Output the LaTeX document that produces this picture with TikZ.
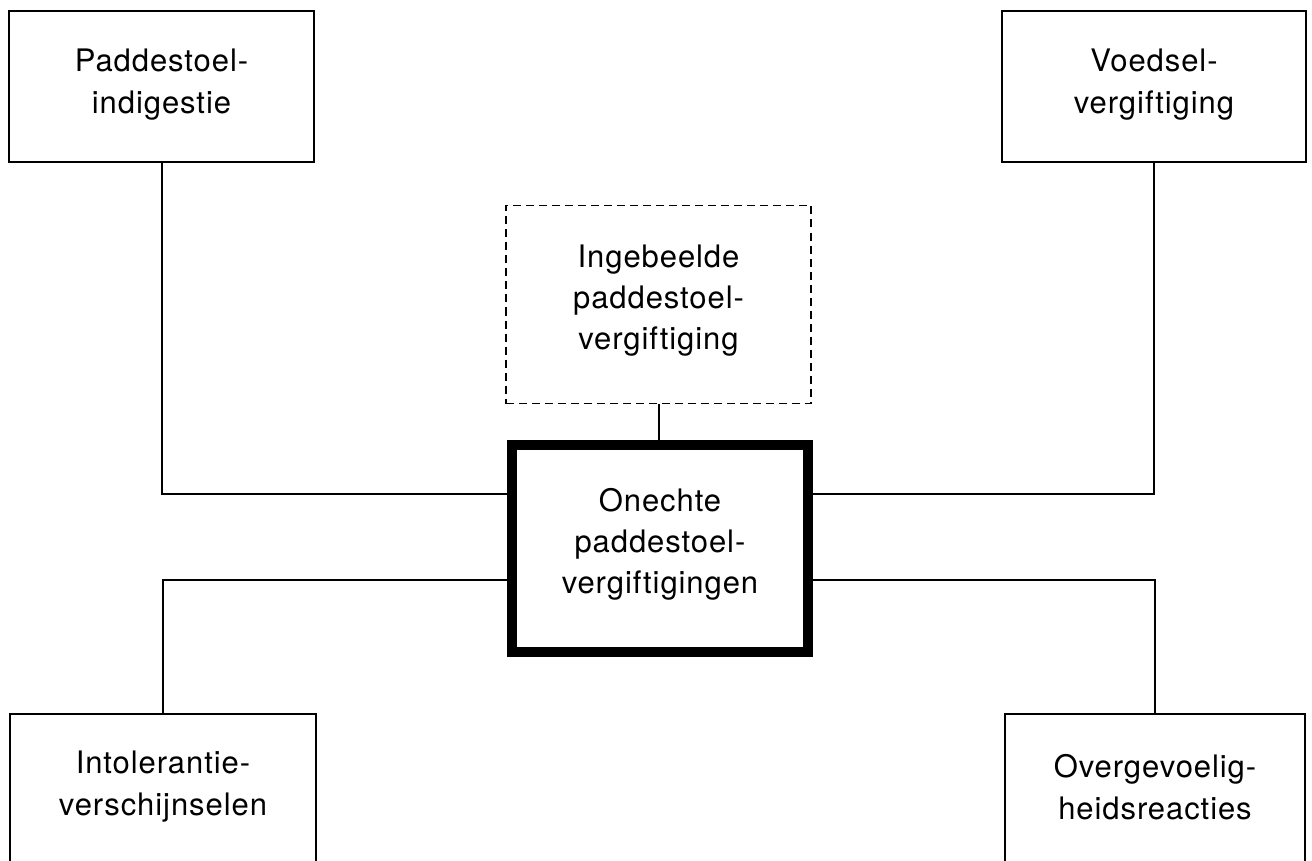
\documentclass[tikz,border=0pt]{standalone}
\usepackage{fontspec}
\setmainfont[LetterSpace=3]{TeX Gyre Heros}
\newcommand{\lowstrut}{\rule[-15pt]{0pt}{0pt}}
\begin{document}
\begin{tikzpicture}[x=1pt,y=-1pt,
  txt/.style={align=center, font=\fontsize{31}{42}\selectfont, inner sep=0pt},
  txtthree/.style={font=\fontsize{31}{41}\selectfont},
  box/.style={txt, draw, line width=2pt},
  dbox/.style={box, txtthree, line width=1.6pt, dash pattern=on 8pt off 5pt},
  mainbox/.style={box, txtthree, line width=10pt},
  link/.style={line width=2pt}
]
\useasboundingbox (0,0) rectangle (1312,861);
% top boxes
\node[box, minimum width=305pt, minimum height=151pt] (tl) at (161.5,86.5) {Paddestoel-\\indigestie\rule[-10pt]{0pt}{0pt}};
\node[box, minimum width=304pt, minimum height=151pt] (tr) at (1154,86.5) {Voedsel-\\vergiftiging\rule[-10pt]{0pt}{0pt}};
% dashed box
\node[dbox, minimum width=305pt, minimum height=198pt] (ing) at (658.5,304.5) {Ingebeelde\\paddestoel-\\vergiftiging\lowstrut};
% main box
\node[mainbox, minimum width=296pt, minimum height=207pt] (main) at (660,548.5) {Onechte\\paddestoel-\\vergiftigingen\lowstrut};
% bottom boxes (cut off by the page edge)
\node[box, anchor=north, minimum width=306pt, minimum height=200pt] (bl) at (163,713) {};
\node[txt] (bltxt) at (163,787) {Intolerantie-\\verschijnselen};
\node[box, anchor=north, minimum width=300pt, minimum height=200pt] (br) at (1155,713) {};
\node[txt] (brtxt) at (1155,787) {Overgevoelig-\\heidsreacties};
% connector levels
\coordinate (yA) at (0,494);
\coordinate (yB) at (0,580);
% connectors
\draw[link] (tl.south) |- (main.west |- yA);
\draw[link] (tr.south) |- (main.east |- yA);
\draw[link] (bl.north) |- (main.west |- yB);
\draw[link] (br.north) |- (main.east |- yB);
\draw[link] (ing.south) -- (ing.south |- main.north);
\end{tikzpicture}
\end{document}
